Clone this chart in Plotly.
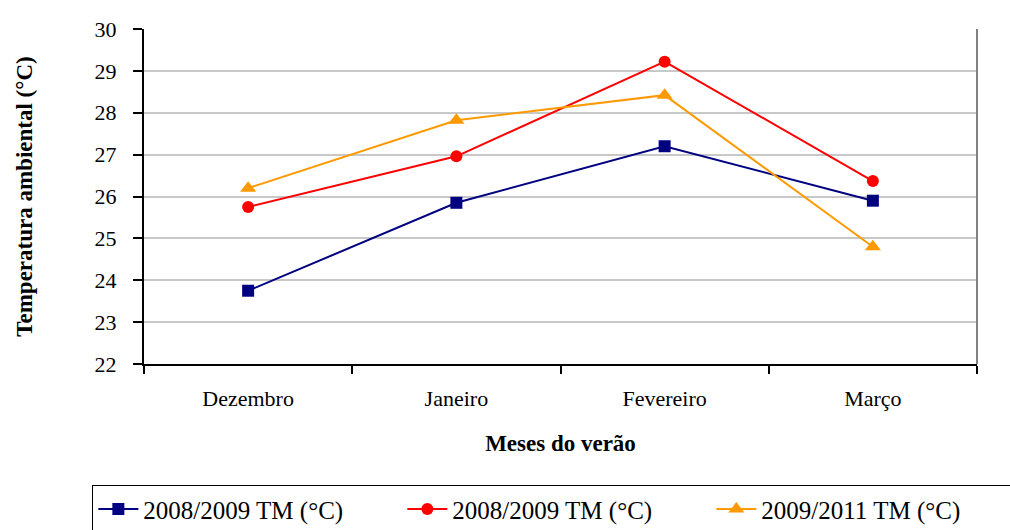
import plotly.graph_objects as go

meses = ["Dezembro", "Janeiro", "Fevereiro", "Março"]
serie_a = [23.75, 25.85, 27.2, 25.9]
serie_b = [25.75, 26.96, 29.22, 26.37]
serie_c = [26.2, 27.82, 28.42, 24.8]
nomes = ["2008/2009 TM (°C)", "2008/2009 TM (°C)", "2009/2011 TM (°C)"]
cores = ["#000080", "#FF0000", "#FF9900"]
simbolos = ["square", "circle", "triangle-up"]

fonte = "Liberation Serif"

fig = go.Figure()
for valores, nome, cor, simb in zip([serie_a, serie_b, serie_c], nomes, cores, simbolos):
    fig.add_trace(go.Scatter(
        x=meses, y=valores, name=nome, mode="lines+markers",
        line=dict(color=cor, width=2),
        marker=dict(symbol=simb, size=12 if simb != "triangle-up" else 14, color=cor),
    ))

fig.update_layout(
    width=1010, height=530,
    margin=dict(l=144, r=33, t=29, b=166, autoexpand=False),
    paper_bgcolor="white", plot_bgcolor="white",
    font=dict(family=fonte, size=22, color="black"),
    showlegend=True,
    legend=dict(
        orientation="h", x=-0.062, xanchor="left", y=-0.362, yanchor="top",
        bordercolor="black", borderwidth=1, font=dict(family=fonte, size=25),
        itemwidth=40, entrywidth=254, entrywidthmode="pixels", tracegroupgap=0,
    ),
)

fig.update_xaxes(
    type="category", range=[-0.5, 3.5], automargin=False,
    tickson="boundaries", ticks="outside", ticklen=8, tickcolor="black", tickwidth=2,
    ticklabelstandoff=14,
    showline=True, linecolor="black", linewidth=2, mirror=False,
    showgrid=False, tickfont=dict(family=fonte, size=22),
    title=dict(text="<b>Meses do verão</b>", font=dict(family=fonte, size=23), standoff=24),
)
fig.update_yaxes(
    range=[22, 30], dtick=1, ticks="outside", ticklen=9, tickcolor="black", tickwidth=2,
    ticklabelstandoff=12,
    showline=True, linecolor="black", linewidth=2, automargin=False,
    showgrid=True, gridcolor="#C8C8C8", gridwidth=2, tickfont=dict(family=fonte, size=22),
    title=dict(text="<b>Temperatura ambiental (°C)</b>", font=dict(family=fonte, size=23), standoff=56),
)

# right border of the plot area
fig.add_shape(type="line", xref="paper", yref="paper", x0=1, x1=1, y0=0, y1=1,
              line=dict(color="#808080", width=2))

fig.write_html("out.html")
